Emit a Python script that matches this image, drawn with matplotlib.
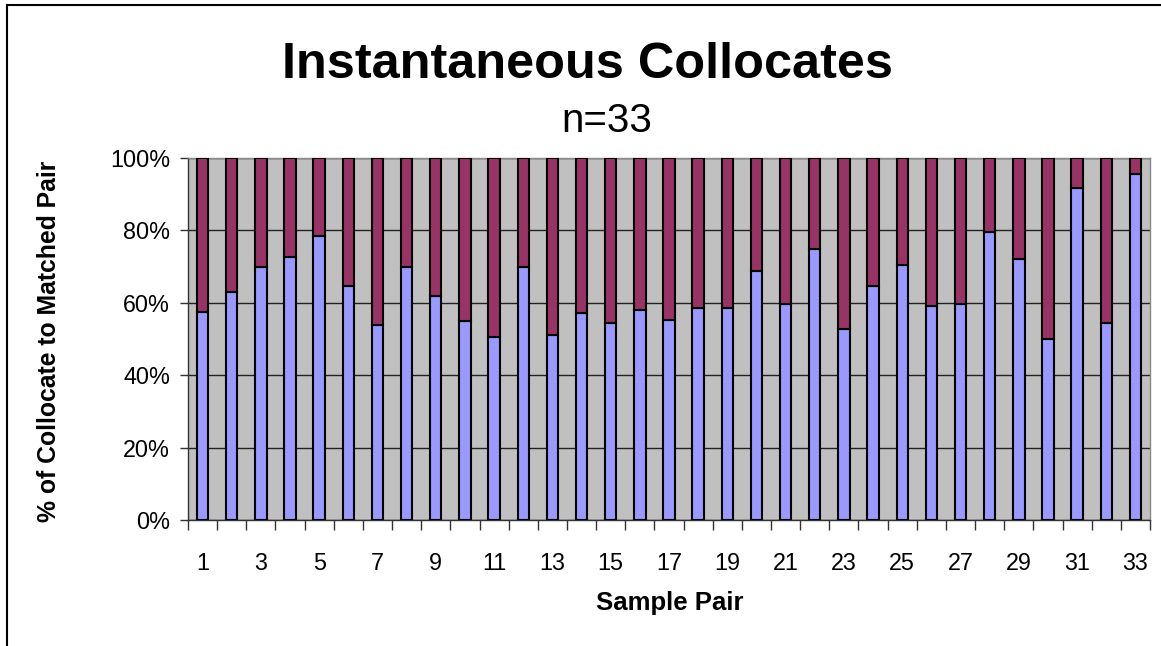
import matplotlib
matplotlib.use("Agg")
import matplotlib.pyplot as plt
from matplotlib.lines import Line2D
from matplotlib.ticker import MultipleLocator, FixedLocator, FuncFormatter
import numpy as np

# Share of collocate vs. matched pair for each sample pair (percent)
pairs = list(range(1, 34))
collocate = [57.5, 62.9, 69.9, 72.6, 78.5, 64.6, 54.0, 69.9, 61.9, 54.9, 50.6,
             69.9, 51.2, 57.1, 54.4, 58.1, 55.3, 58.6, 58.6, 68.9, 59.7, 74.8,
             52.8, 64.6, 70.4, 59.2, 59.7, 79.6, 72.1, 50.0, 91.8, 54.4, 95.7]
matched = [100 - v for v in collocate]

plt.rcParams['font.family'] = ['Liberation Sans', 'DejaVu Sans']

fig = plt.figure(figsize=(11.61, 6.46), dpi=100)
ax = fig.add_axes([188 / 1161, 126 / 646, 962 / 1161, 362 / 646])

x = np.arange(len(pairs))
lower = np.array(collocate) / 100.0
upper = np.array(matched) / 100.0
ax.bar(x, lower, width=0.39, color='#9999FF', edgecolor='black', linewidth=1.5, zorder=3)
ax.bar(x, upper, width=0.39, bottom=lower, color='#993366', edgecolor='black',
       linewidth=1.5, zorder=3)

ax.set_facecolor('#C0C0C0')
ax.set_xlim(-0.5, len(pairs) - 0.5)
ax.set_ylim(0, 1)

# y axis: percent ticks with grid lines
ax.yaxis.set_major_locator(MultipleLocator(0.2))
ax.yaxis.set_major_formatter(FuncFormatter(lambda v, p: '{:.0f}%'.format(v * 100)))
ax.grid(axis='y', color='#222222', linewidth=1.0, zorder=1)
ax.tick_params(axis='y', direction='out', length=6, width=1, colors='#333333',
               labelcolor='black', labelsize=16.8, pad=7)

# x axis: tick marks between categories, labels on every other pair
ax.xaxis.set_major_locator(FixedLocator(x[::2]))
ax.set_xticklabels([str(p) for p in pairs[::2]])
ax.xaxis.set_minor_locator(FixedLocator(np.arange(-0.5, len(pairs), 1.0)))
ax.tick_params(axis='x', which='major', length=0, labelsize=16.8, pad=23)
ax.tick_params(axis='x', which='minor', direction='out', length=7, width=1, colors='#333333')

for side in ['top', 'right']:
    ax.spines[side].set_color('#888888')
    ax.spines[side].set_linewidth(1)
for side in ['left', 'bottom']:
    ax.spines[side].set_color('#333333')
    ax.spines[side].set_linewidth(1)

fig.text(588 / 1161, 1 - 65 / 646, 'Instantaneous Collocates', ha='center', va='center',
         fontsize=36.3, fontweight='bold')
fig.text(607 / 1161, 1 - 121 / 646, 'n=33', ha='center', va='center', fontsize=29)
fig.text(670 / 1161, 1 - 603 / 646, 'Sample Pair', ha='center', va='center',
         fontsize=18.5, fontweight='bold')
fig.text(49 / 1161, 1 - 341 / 646, '% of Collocate to Matched Pair', ha='center',
         va='center', rotation=90, fontsize=17.8, fontweight='bold')

# chart frame (top and left edges)
fig.add_artist(Line2D([7 / 1161, 1.0], [1 - 5 / 646, 1 - 5 / 646], color='black', linewidth=1.5))
fig.add_artist(Line2D([7 / 1161, 7 / 1161], [0.0, 1 - 5 / 646], color='black', linewidth=1.5))

fig.savefig('out.png', dpi=100)
